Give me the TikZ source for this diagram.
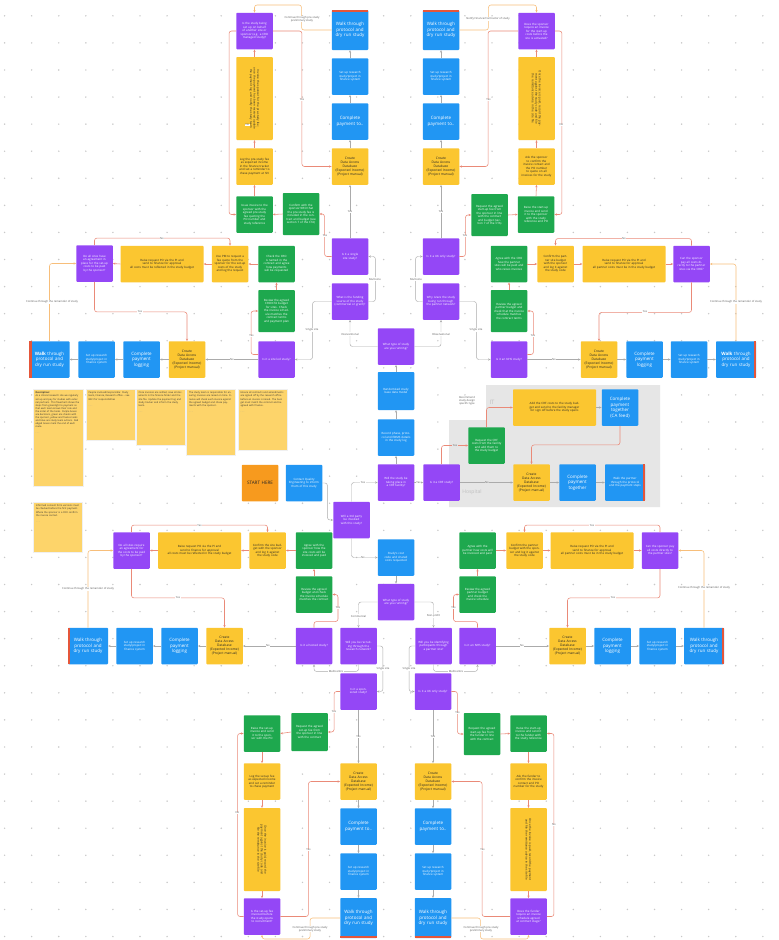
\documentclass[tikz,border=0pt]{standalone}
\usepackage{fontspec}
\setmainfont{Open Sans}
\usetikzlibrary{arrows.meta}
\definecolor{purp}{HTML}{9447F6}
\definecolor{blu}{HTML}{2196F3}
\definecolor{grn}{HTML}{1EA84E}
\definecolor{yel}{HTML}{FBC630}
\definecolor{orng}{HTML}{F79A1E}
\definecolor{redst}{HTML}{E5563A}
\definecolor{lred}{HTML}{EA8A78}
\definecolor{lgray}{HTML}{ABABAB}
\definecolor{lorange}{HTML}{F7BE7A}
\definecolor{notec}{HTML}{FDD46A}
\definecolor{rgn}{HTML}{E6E6E6}
\definecolor{dotc}{HTML}{C8C8C8}
\newcommand{\tWalk}{Walk through protocol and dry run study}
\newcommand{\tSet}{Set up research study/project in finance system}
\newcommand{\tPay}{Complete payment to..}
\newcommand{\tCreate}{Create\\Data Access\\Database\\(Expected Income)\\(Project manual)}
\newcommand{\tCont}{Continue through the remainder of study}
\newcommand{\stT}[1]{\fill[redst] (#1.north west) rectangle ([yshift=-2.6pt]#1.north east);}
\newcommand{\stB}[1]{\fill[redst] ([yshift=2.6pt]#1.south west) rectangle (#1.south east);}
\newcommand{\stL}[1]{\fill[redst] (#1.north west) rectangle ([xshift=2.6pt]#1.south west);}
\newcommand{\stR}[1]{\fill[redst] ([xshift=-2.6pt]#1.north east) rectangle (#1.south east);}
\begin{document}
\begin{tikzpicture}[x=1pt,y=-1pt,>={Stealth[length=2.4pt,width=2.2pt]},
 bx/.style={rectangle, rounded corners=0.8pt, minimum width=36.5pt, minimum height=36.5pt, text width=31pt, align=center, inner sep=0pt, font=\fontsize{2.9}{3.5}\selectfont},
 pb/.style={bx, fill=purp, text=white},
 gb/.style={bx, fill=grn, text=white},
 yb/.style={bx, fill=yel, text=black!85},
 bb/.style={bx, fill=blu, text=white},
 bbl/.style={bb, font=\fontsize{4.5}{5.5}\selectfont},
 ycr/.style={yb, font=\fontsize{3.3}{4}\selectfont},
 wk/.style={bbl, minimum width=40pt, text width=33pt},
 wkv/.style={bbl, minimum height=40pt},
 wide/.style={minimum width=83pt, text width=74pt},
 tall/.style={minimum height=83pt},
 rottxt/.style={rotate=-90, text width=72pt, align=center, font=\fontsize{2.9}{3.5}\selectfont, text=black!85, inner sep=0pt},
 notebox/.style={fill=notec, draw=black!6, inner sep=0pt, minimum width=49pt},
 notetxt/.style={anchor=north west, text width=44pt, align=left, font=\fontsize{2.4}{3.1}\selectfont, text=black!80, inner sep=0pt},
 rl/.style={draw=lred, line width=0.55pt, rounded corners=2.5pt, ->},
 gl/.style={draw=lgray, line width=0.45pt, rounded corners=2.5pt, ->},
 ol/.style={draw=lorange, line width=0.55pt, rounded corners=2.5pt, ->},
 lbl/.style={fill=white, inner sep=0.5pt, font=\fontsize{2.7}{3.1}\selectfont, text=black!65, align=center}]
\path[use as bounding box, fill=white] (0,0) rectangle (779,940);
\foreach \i in {0,...,28} \foreach \j in {0,...,34} \fill[dotc] (4.6+\i*27.08,15.8+\j*27.08) circle (0.8);
% grey region
\fill[rgn] (486,385) -- (660,385) -- (660,507) -- (449,507) -- (449,420) -- (486,420) -- cycle;
\node[font=\fontsize{6}{7}\selectfont, text=black!25] (rgIT) at (492,402) {IT};
\node[font=\fontsize{5}{6}\selectfont, text=black!25] (rgHosp) at (472,492) {Hospital};
\node[lbl, fill=none] (rglbl) at (467,401) {Recommend\\study design\\specific type};
% ===== top-left =====
\node[wkv] (tl_walk) at (350,30) {\tWalk}; \stT{tl_walk}
\node[bb] (tl_b2) at (350,76.5) {\tSet};
\node[bbl] (tl_b3) at (350,121.5) {\tPay};
\node[ycr] (tl_create) at (350,166.5) {\tCreate};
\node[pb] (tl_p) at (254.5,31) {Is the study being set up on behalf of another site or sponsor (e.g. a CRO managed study)?};
\node[yb, tall] (tl_yt) at (254.5,98.5) {};
\node[rottxt] (tl_ytt) at (tl_yt.center) {Invoice the sponsor for the pre-study fee; once the payment has been received update the payment log and notify the study team};
\node[yb] (tl_y) at (254.5,166.5) {Log the pre-study fee as expected income in the finance tracker and set a reminder to chase payment at SIV};
\node[gb] (tl_g1) at (254.5,214.5) {Issue invoice to the sponsor with the agreed pre-study fee quoting the PO number and study reference};
\node[gb, minimum height=42pt] (tl_g2) at (301,214) {Confirm with the sponsor/CRO that the pre-study fee is included in the contract and budget (see section 7 of the CTA)};
\node[pb] (tl_s) at (350,256.5) {Is it a single site study?};
\node[pb] (tl_w) at (350,301.5) {What is the funding source of the study (commercial or grant)?};
\node[gb] (tl_gm) at (276.5,264) {Check the CRO is named in the contract and agree how payments will be requested};
\node[yb] (tl_ys) at (230,264) {Use PM to request a fee quote from the sponsor for the set-up costs of the study and log the request};
\node[yb, wide] (tl_yw) at (162,264) {Raise request PO via the PI and send to finance for approval\\all costs must be reflected in the study budget};
\node[pb] (tl_pl) at (94.5,263.5) {Do all sites have an agreement in place for the set-up costs to be paid by the sponsor?};
\node[gb, minimum height=42pt] (tl_gg) at (276.5,311) {Review the agreed CRO/CTA budget for sites. Check the invoice schedule matches the contract terms and payment plan};
\node[pb] (tl_a) at (276.5,359.5) {Is it a site led study?};
\node[ycr] (tl_cr) at (187,359.5) {\tCreate};
\node[bbl] (tl_b3b) at (141.5,359.5) {Complete payment logging};
\node[bb] (tl_b2b) at (96.5,359.5) {\tSet};
\node[wk] (tl_walk2) at (49.5,359.5) {\textbf{Walk} through protocol and dry run study}; \stL{tl_walk2}
% ===== top-right =====
\node[wkv] (tr_walk) at (441,30) {\tWalk}; \stT{tr_walk}
\node[bb] (tr_b2) at (441,76.5) {\tSet};
\node[bbl] (tr_b3) at (441,121.5) {\tPay};
\node[ycr] (tr_create) at (441,166.5) {\tCreate};
\node[pb] (tr_p) at (536.5,31) {Does the sponsor require an invoice for the start-up costs before the site is activated?};
\node[yb, tall] (tr_yt) at (536.5,98.5) {};
\node[rottxt] (tr_ytt) at (tr_yt.center) {Once the invoice is paid, record the payment against the study code and file the remittance advice in the site file};
\node[yb] (tr_y) at (536.5,166.5) {Ask the sponsor to confirm the invoice contact and the PO number to quote on all invoices for the study};
\node[gb, minimum height=42pt] (tr_g2) at (489.5,215) {Request the agreed start-up fee from the sponsor in line with the contract and budget (section 7 of the CTA)};
\node[gb] (tr_g1) at (536,214.5) {Raise the start-up invoice and send it to the sponsor with the study reference and PO};
\node[pb] (tr_s) at (441,256.5) {Is it a UK only study?};
\node[pb] (tr_w) at (441,301.5) {Why is/are the study being run through the partner network?};
\node[gb] (tr_gm) at (509,264) {Agree with the CRO how the partner sites will be paid and who raises invoices};
\node[yb] (tr_ys) at (555.5,264) {Confirm the partner site budget with the sponsor and log it against the study code};
\node[yb, wide] (tr_yw) at (624,264) {Raise request PO via the PI and send to finance for approval\\all partner costs must be in the study budget};
\node[pb] (tr_pr) at (691.5,264) {Can the sponsor pay all costs directly to the partner sites via the CRO?};
\node[gb, minimum height=42pt] (tr_gg) at (509,311) {Review the agreed partner budget and check that the invoice schedule matches the contract terms};
\node[pb] (tr_a) at (509,359.5) {Is it an NHS study?};
\node[ycr] (tr_cr) at (599,359.5) {\tCreate};
\node[bbl] (tr_b3b) at (644.5,359.5) {Complete payment logging};
\node[bb] (tr_b2b) at (689,359.5) {\tSet};
\node[wk] (tr_walk2) at (736,359.5) {\textbf{Walk} through protocol and dry run study}; \stR{tr_walk2}
% ===== centre =====
\node[pb] (ct1) at (396,346.5) {What type of study are you running?};
\node[bb, minimum height=38pt] (ct_b1) at (396,391) {Randomised study\\base data model};
\node[bb] (ct_b2) at (396,437.5) {Record phase, protocol and EDMS details in the study log};
\node[pb] (ct_q3) at (396,482.5) {Will the study be taking place in a CRF facility?};
\node[bx, fill=orng, text=black!85, font=\fontsize{4.6}{5.5}\selectfont] (ct_or) at (260,483) {START HERE};
\node[bb] (ct_blc) at (304,483) {Contact Quality Engineering to inform them of this study};
\node[pb] (ct_q4) at (351.5,520) {Will a 3rd party be involved with this study?};
\node[bb] (ct_b5) at (396,557.5) {Study's cost code and shared costs requested};
\node[pb] (ct6) at (396,602) {What type of study are you running?};
% ===== grey region =====
\node[pb] (rg_p) at (441.5,482.5) {Is it a CRF study?};
\node[gb] (rg_g) at (486.5,445.5) {Request the CRF costs from the facility and add them to the study budget};
\node[yb, wide] (rg_yw) at (554.5,407.5) {Add the CRF costs to the study budget and send to the facility manager for sign off before the study opens};
\node[bbl] (rg_b) at (620,407.5) {Complete payment together (CA feed)};
\node[ycr] (rg_cr) at (531.5,482.5) {\tCreate};
\node[bbl] (rg_b2) at (577.5,482.5) {Complete payment together};
\node[bb, minimum width=40pt, text width=33pt] (rg_b3) at (625,482.5) {Walk the partner through the protocol and the payment steps}; \stR{rg_b3}
% ===== notes =====
\node[notebox, minimum width=50pt, minimum height=97pt] (n1) at (58,437.5) {};
\node[notetxt] (n1t) at ([xshift=2.5pt,yshift=-3pt]n1.north west) {\textbf{Description:}\\As a clinical research site we regularly set up and pay for studies with external partners. This flowchart shows the steps from greenlight to payment so that each team knows their role and the order of the tasks. Purple boxes are decisions, green are checks with the sponsor, yellow are finance tasks and blue are study team actions. Red edged boxes mark the end of each route.\\[2pt]\textcolor{black!40}{- - -}};
\node[notebox, minimum height=51pt] (n2) at (110.5,414.5) {};
\node[notetxt] (n2t) at ([xshift=2.5pt,yshift=-3pt]n2.north west) {People involved/responsible: Study team, Finance, Research office -- see RACI for responsibilities\\[3pt]\textcolor{black!40}{- - -}};
\node[notebox, minimum height=56pt] (n3) at (160.5,417) {};
\node[notetxt] (n3t) at ([xshift=2.5pt,yshift=-3pt]n3.north west) {Once invoices are settled, save all documents in the finance folder and the site file. Update the payment log and study tracker and inform the study team.\\[3pt]\textcolor{black!40}{- - -}};
\node[notebox, minimum height=66pt] (n4) at (211,422) {};
\node[notetxt] (n4t) at ([xshift=2.5pt,yshift=-3pt]n4.north west) {The study team is responsible for ensuring invoices are raised on time. Finance will check each invoice against the agreed budget and chase payments with the sponsor.\\[3pt]\textcolor{black!40}{- - -}};
\node[notebox, minimum height=61pt] (n5) at (262.5,419.5) {};
\node[notetxt] (n5t) at ([xshift=2.5pt,yshift=-3pt]n5.north west) {Ensure all contracts and amendments are signed off by the research office before an invoice is raised. The budget must match the contract and be agreed with finance.\\[3pt]\textcolor{black!40}{- - -}};
\node[notebox, minimum height=50pt] (n6) at (58,527) {};
\node[notetxt] (n6t) at ([xshift=2.5pt,yshift=-3pt]n6.north west) {Informed consent form versions must be checked before the first payment. Where the sponsor is a CRO confirm the invoice contact.\\[3pt]\textcolor{black!40}{- - -}};
% ===== bottom-left upper =====
\node[pb] (bl_pl) at (131.5,550.5) {Do all sites require an agreement for the costs to be paid by the sponsor?};
\node[yb, wide] (bl_yw) at (199.5,550.5) {Raise request PO via the PI and send to finance for approval\\all costs must be reflected in the study budget};
\node[yb] (bl_ys) at (267.5,550.5) {Confirm the site budget with the sponsor and log it against the study code};
\node[gb] (bl_gm) at (314,550.5) {Agree with the sponsor how the site costs will be invoiced and paid};
\node[gb] (bl_gg) at (314,594.5) {Review the agreed budget and check the invoice schedule matches the contract};
\node[pb] (bl_a) at (314,646) {Is it a hosted study?};
\node[pb] (bl_w) at (358.5,646) {Will you be recruiting through the research network?};
\node[ycr] (bl_cr) at (224.5,646) {\tCreate};
\node[bbl] (bl_b3) at (179.5,646) {Complete payment logging};
\node[bb] (bl_b2) at (134.5,646) {\tSet};
\node[wk] (bl_walk) at (88,646) {\tWalk}; \stL{bl_walk}
% ===== bottom-right upper =====
\node[pb] (br_w) at (433.5,646) {Will you be identifying participants through a partner site?};
\node[pb] (br_a) at (477.5,646) {Is it an NHS study?};
\node[gb] (br_gg) at (477.5,594.5) {Review the agreed partner budget and check the invoice schedule};
\node[gb] (br_gm) at (477.5,550.5) {Agree with the partner how costs will be invoiced and paid};
\node[yb] (br_ys) at (524.5,550.5) {Confirm the partner budget with the sponsor and log it against the study code};
\node[yb, wide] (br_yw) at (592,550.5) {Raise request PO via the PI and send to finance for approval\\all partner costs must be in the study budget};
\node[pb] (br_pr) at (660,550.5) {Can the sponsor pay all costs directly to the partner sites?};
\node[ycr] (br_cr) at (567.5,646) {\tCreate};
\node[bbl] (br_b3) at (612.5,646) {Complete payment logging};
\node[bb] (br_b2) at (657.5,646) {\tSet};
\node[wk] (br_walk) at (704,646) {\tWalk}; \stR{br_walk}
% ===== bottom lower =====
\node[pb] (bl_q) at (358.5,691.5) {Is it a sponsored study?};
\node[gb, minimum height=38pt] (bl_g2) at (309.5,732) {Request the agreed set-up fee from the sponsor in line with the contract};
\node[gb] (bl_g1) at (262,733.5) {Raise the set-up invoice and send it to the sponsor with the PO};
\node[yb] (bl_y) at (262,781.5) {Log the set-up fee as expected income and set a reminder to chase payment};
\node[yb, tall] (bl_yt) at (262,849.5) {};
\node[rottxt] (bl_ytt) at (bl_yt.center) {Once the invoice is paid, record the payment against the study code and file the remittance in the site file};
\node[pb] (bl_p) at (262,916.5) {Is the set-up fee invoiced before the study opens to recruitment?};
\node[ycr] (bl_create) at (358.5,781.5) {\tCreate};
\node[bbl] (bl_c3) at (358.5,826.5) {\tPay};
\node[bb] (bl_c2) at (358.5,871.5) {\tSet};
\node[wkv] (bl_walkb) at (358.5,918) {\tWalk}; \stB{bl_walkb}
\node[pb] (br_q) at (433,691.5) {Is it a UK only study?};
\node[gb, minimum height=42pt] (br_g2) at (482,734) {Request the agreed start-up fee from the funder in line with the contract};
\node[gb] (br_g1) at (528.5,733.5) {Raise the start-up invoice and send it to the funder with the study reference};
\node[yb] (br_y) at (528.5,781.5) {Ask the funder to confirm the invoice contact and PO number for the study};
\node[yb, tall] (br_yt) at (528.5,849.5) {};
\node[rottxt] (br_ytt) at (br_yt.center) {Once the invoice is paid, record the payment and file the remittance advice in the site file};
\node[pb] (br_p) at (528.5,916.5) {Does the funder require an invoice schedule agreed at contract stage?};
\node[ycr] (br_create) at (433,781.5) {\tCreate};
\node[bbl] (br_c3) at (433,826.5) {\tPay};
\node[bb] (br_c2) at (433,871.5) {\tSet};
\node[wkv] (br_walkb) at (433,918) {\tWalk}; \stB{br_walkb}
% ===== connectors: top-left =====
\draw[rl] (tl_s.west) -- ++(-7,0) |- (tl_g2.east);
\draw[rl] (tl_g2.west) -- (tl_g1.east);
\draw[rl] (tl_g1.north) -- (tl_y.south);
\draw[rl] (tl_y.north) -- (tl_yt.south);
\draw[rl] (tl_yt.north) -- (tl_p.south);
\draw[rl] (tl_p.east) -- ++(29,0) |- (tl_create.west);
\draw[rl] (tl_p.west) -- ++(-7,0) |- (tl_g1.west);
\draw[ol] (tl_walk.west) -- ++(-30,0) -- ++(0,-25) -| (tl_p.north);
\draw[gl] (tl_s.north) -- (tl_create.south);
\draw[gl] (tl_create.north) -- (tl_b3.south);
\draw[gl] (tl_b3.north) -- (tl_b2.south);
\draw[gl] (tl_b2.north) -- (tl_walk.south);
\draw[gl] (ct1.west) -| (tl_w.south);
\draw[gl] (tl_w.east) -- ++(7,0) |- (tl_s.east);
\draw[gl] (tl_w.west) -- ++(-19,0) |- (tl_a.east);
\draw[rl] ([yshift=5pt]tl_a.west) -- ++(-7,0) |- (tl_gg.west);
\draw[gl] (tl_a.west) -- (tl_cr.east);
\draw[rl] (tl_gg.north) -- (tl_gm.south);
\draw[rl] (tl_gm.west) -- (tl_ys.east);
\draw[rl] (tl_ys.west) -- (tl_yw.east);
\draw[rl] (tl_yw.west) -- (tl_pl.east);
\draw[rl] (tl_pl.north) -- ++(0,-7) -| (tl_ys.north);
\draw[rl] (tl_pl.south) -- ++(0,30) -| (tl_cr.north);
\draw[ol] (tl_walk2.north) |- (tl_pl.west);
\draw[gl] (tl_cr.west) -- (tl_b3b.east);
\draw[gl] (tl_b3b.west) -- (tl_b2b.east);
\draw[gl] (tl_b2b.west) -- (tl_walk2.east);
\node[lbl] (l1) at (325,236) {Yes};
\node[lbl] (l2) at (302,100) {Yes};
\node[lbl] (l3) at (247.5,125) {No};
\node[lbl] (l4) at (302,19) {Continue through pre-study\\preliminary study};
\node[lbl] (l5) at (350,212) {Yes};
\node[lbl] (l6) at (350,334) {Interventional};
\node[lbl] (l7) at (375,279) {Multi-site};
\node[lbl] (l8) at (312,330) {Single site};
\node[lbl] (l9) at (251.5,336) {Yes};
\node[lbl] (l10) at (232,359.5) {No};
\node[lbl] (l11) at (162,238.3) {No};
\node[lbl] (l12) at (140,312) {Yes};
\node[lbl] (l13) at (52,302) {\tCont};
% ===== connectors: top-right =====
\draw[rl] (tr_s.east) -- ++(6,0) |- (tr_g2.west);
\draw[rl] (tr_g2.east) -- (tr_g1.west);
\draw[rl] (tr_g1.north) -- (tr_y.south);
\draw[rl] (tr_y.north) -- (tr_yt.south);
\draw[rl] (tr_yt.north) -- (tr_p.south);
\draw[rl] (tr_p.west) -- ++(-30,0) |- (tr_create.east);
\draw[rl] (tr_p.east) -- ++(7,0) |- (tr_g1.east);
\draw[ol] (tr_walk.east) -- ++(29,0) -- ++(0,-25) -| (tr_p.north);
\draw[gl] (tr_s.north) -- (tr_create.south);
\draw[gl] (tr_create.north) -- (tr_b3.south);
\draw[gl] (tr_b3.north) -- (tr_b2.south);
\draw[gl] (tr_b2.north) -- (tr_walk.south);
\draw[gl] (ct1.east) -| (tr_w.south);
\draw[gl] (tr_w.west) -- ++(-7,0) |- (tr_s.west);
\draw[gl] (tr_w.east) -- ++(17,0) |- (tr_a.west);
\draw[rl] ([yshift=5pt]tr_a.east) -- ++(6,0) |- (tr_gg.east);
\draw[gl] (tr_a.east) -- (tr_cr.west);
\draw[rl] (tr_gg.north) -- (tr_gm.south);
\draw[rl] (tr_gm.east) -- (tr_ys.west);
\draw[rl] (tr_ys.east) -- (tr_yw.west);
\draw[rl] (tr_yw.east) -- (tr_pr.west);
\draw[rl] (tr_pr.north) -- ++(0,-7) -| (tr_ys.north);
\draw[rl] (tr_pr.south) -- ++(0,30) -| (tr_cr.north);
\draw[ol] (tr_walk2.north) |- (tr_pr.east);
\draw[gl] (tr_cr.east) -- (tr_b3b.west);
\draw[gl] (tr_b3b.east) -- (tr_b2b.west);
\draw[gl] (tr_b2b.east) -- (tr_walk2.west);
\node[lbl] (r1) at (465,236) {Yes};
\node[lbl] (r2) at (488.5,100) {Yes};
\node[lbl] (r3) at (561.5,125) {No};
\node[lbl] (r4) at (488,19) {Notify Finance/Contractor of study};
\node[lbl] (r5) at (441,212) {Yes};
\node[lbl] (r6) at (441,334) {Observational};
\node[lbl] (r7) at (416,279) {Multi-site};
\node[lbl] (r8) at (476,330) {Single site};
\node[lbl] (r9) at (533,336) {Yes};
\node[lbl] (r10) at (554,359.5) {No};
\node[lbl] (r11) at (624,238.3) {No};
\node[lbl] (r12) at (645,312) {Yes};
\node[lbl] (r13) at (736,302) {\tCont};
% ===== connectors: centre =====
\draw[gl] (ct_q3.north) -- (ct_b2.south);
\draw[gl] (ct_b2.north) -- (ct_b1.south);
\draw[gl] (ct_b1.north) -- (ct1.south);
\draw[gl] (ct_blc.east) -- ++(5,0) |- (ct_q4.west);
\draw[gl] (ct_q4.north) |- (ct_q3.west);
\draw[gl] (ct_q4.south) |- (ct_b5.west);
\draw[gl] (ct_b5.south) -- (ct6.north);
\draw[gl] (ct_q3.east) -- (rg_p.west);
\node[lbl] (c1) at (363,482.5) {Yes};
\node[lbl] (c2) at (363,557.5) {No};
\node[lbl] (c3) at (418.5,482.5) {Yes};
% ===== connectors: grey region =====
\draw[rl] (rg_p.north) |- (rg_g.west);
\draw[rl] (rg_g.north) |- (rg_yw.west);
\draw[gl] (rg_yw.east) -- (rg_b.west);
\draw[rl] (rg_b.south) -- ++(0,19) -| (rg_cr.north);
\draw[gl] (rg_p.east) -- (rg_cr.west);
\draw[gl] (rg_cr.east) -- (rg_b2.west);
\draw[gl] (rg_b2.east) -- (rg_b3.west);
\node[lbl, fill=rgn] (g1) at (455,445.5) {Yes};
\node[lbl, fill=rgn] (g2) at (487,482.5) {No};
% ===== connectors: bottom upper =====
\draw[gl] (ct6.west) -| (bl_w.north);
\draw[gl] (ct6.east) -| (br_w.north);
\draw[gl] (bl_w.east) -- ++(6,0) |- (bl_q.east);
\draw[gl] (bl_w.south) -- ++(0,7) -| (bl_a.south);
\draw[gl] (br_w.west) -- ++(-6,0) |- (br_q.west);
\draw[gl] (br_w.south) -- ++(0,7) -| (br_a.south);
\draw[rl] (bl_a.north) -- ++(0,-6) -- ++(24,0) |- (bl_gg.east);
\draw[gl] (bl_a.west) -- (bl_cr.east);
\draw[rl] (bl_gg.north) -- (bl_gm.south);
\draw[rl] (bl_gm.west) -- (bl_ys.east);
\draw[rl] (bl_ys.west) -- (bl_yw.east);
\draw[rl] (bl_yw.west) -- (bl_pl.east);
\draw[rl] (bl_pl.north) -- ++(0,-7) -| (bl_ys.north);
\draw[rl] (bl_pl.south) -- ++(0,29) -| (bl_cr.north);
\draw[ol] (bl_walk.north) |- (bl_pl.west);
\draw[gl] (bl_cr.west) -- (bl_b3.east);
\draw[gl] (bl_b3.west) -- (bl_b2.east);
\draw[gl] (bl_b2.west) -- (bl_walk.east);
\draw[rl] (br_a.north) -- ++(0,-6) -- ++(-24,0) |- (br_gg.west);
\draw[gl] (br_a.east) -- (br_cr.west);
\draw[rl] (br_gg.north) -- (br_gm.south);
\draw[rl] (br_gm.east) -- (br_ys.west);
\draw[rl] (br_ys.east) -- (br_yw.west);
\draw[rl] (br_yw.east) -- (br_pr.west);
\draw[rl] (br_pr.north) -- ++(0,-7) -| (br_ys.north);
\draw[rl] (br_pr.south) -- ++(0,29) -| (br_cr.north);
\draw[ol] (br_walk.north) |- (br_pr.east);
\draw[gl] (br_cr.east) -- (br_b3.west);
\draw[gl] (br_b3.east) -- (br_b2.west);
\draw[gl] (br_b2.east) -- (br_walk.west);
\node[lbl] (b1) at (358.5,616) {Commercial};
\node[lbl] (b2) at (433.5,616) {Non-profit};
\node[lbl] (b3) at (383,669) {Single site};
\node[lbl] (b4) at (336,671) {Multicentre};
\node[lbl] (b5) at (409,669) {Single site};
\node[lbl] (b6) at (456,671) {Multicentre};
\node[lbl] (b7) at (338,608) {Yes};
\node[lbl] (b8) at (268,646) {No};
\node[lbl] (b9) at (199.5,525.3) {Yes};
\node[lbl] (b10) at (178,598) {Yes};
\node[lbl] (b11) at (88,589) {\tCont};
\node[lbl] (b12) at (453.5,608) {Yes};
\node[lbl] (b13) at (522,646) {No};
\node[lbl] (b14) at (592,525.3) {Yes};
\node[lbl] (b15) at (613,598) {Yes};
\node[lbl] (b16) at (704,588) {\tCont};
% ===== connectors: bottom lower =====
\draw[rl] (bl_q.west) -- ++(-6,0) |- (bl_g2.east);
\draw[rl] (bl_g2.west) -- (bl_g1.east);
\draw[rl] (bl_g1.south) -- (bl_y.north);
\draw[rl] (bl_y.south) -- (bl_yt.north);
\draw[rl] (bl_yt.south) -- (bl_p.north);
\draw[rl] (bl_p.east) -- ++(28,0) |- (bl_create.west);
\draw[rl] (bl_p.west) -- ++(-6,0) |- (bl_g1.west);
\draw[ol] (bl_walkb.west) -- ++(-30,0) -- ++(0,21) -| (bl_p.south);
\draw[gl] (bl_q.south) -- (bl_create.north);
\draw[gl] (bl_create.south) -- (bl_c3.north);
\draw[gl] (bl_c3.south) -- (bl_c2.north);
\draw[gl] (bl_c2.south) -- (bl_walkb.north);
\draw[rl] (br_q.east) -- ++(6,0) |- (br_g2.west);
\draw[rl] (br_g2.east) -- (br_g1.west);
\draw[rl] (br_g1.south) -- (br_y.north);
\draw[rl] (br_y.south) -- (br_yt.north);
\draw[rl] (br_yt.south) -- (br_p.north);
\draw[rl] (br_p.west) -- ++(-28,0) |- (br_create.east);
\draw[rl] (br_p.east) -- ++(7,0) |- (br_g1.east);
\draw[ol] (br_walkb.east) -- ++(29,0) -- ++(0,21) -| (br_p.south);
\draw[gl] (br_q.south) -- (br_create.north);
\draw[gl] (br_create.south) -- (br_c3.north);
\draw[gl] (br_c3.south) -- (br_c2.north);
\draw[gl] (br_c2.south) -- (br_walkb.north);
\node[lbl] (d1) at (334,712) {Yes};
\node[lbl] (d2) at (358.5,737) {Yes};
\node[lbl] (d3) at (308.5,850) {Yes};
\node[lbl] (d4) at (237.5,813) {No};
\node[lbl] (d5) at (310,929) {Continue through pre-study\\preliminary study};
\node[lbl] (d6) at (457.5,713) {Yes};
\node[lbl] (d7) at (433,737) {Yes};
\node[lbl] (d8) at (482.5,850) {Yes};
\node[lbl] (d9) at (554,825) {No};
\node[lbl] (d10) at (481,929) {Continue through pre-study\\preliminary study};
\end{tikzpicture}
\end{document}
